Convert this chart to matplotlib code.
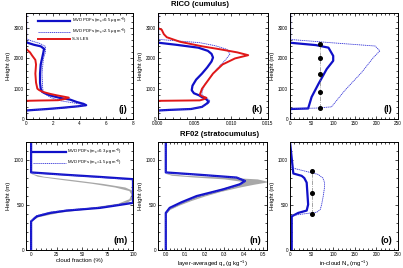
import numpy as np
import matplotlib
matplotlib.use("Agg")
import matplotlib.pyplot as plt
from matplotlib.ticker import MultipleLocator

plt.rcParams["font.family"] = ["Liberation Sans", "DejaVu Sans"]
plt.rcParams["mathtext.fontset"] = "custom"
plt.rcParams["mathtext.rm"] = "Liberation Sans"
plt.rcParams["mathtext.it"] = "Liberation Sans"

BLUE = "#1010c8"
BLUE_THIN = "#3434d8"
RED = "#e01818"
GRAY = "#a8a8a8"

# ---- RICO (cumulus) ----
# (j) cloud fraction-like profile
j_h_thick = [0, 280, 300, 330, 370, 420, 456, 500, 560, 640, 700, 780, 850, 900, 1000, 1200,
             1500, 1800, 2000, 2200, 2320, 2400, 2450, 2520, 2560, 3500]
j_thick = [0, 0, 0.6, 1.6, 2.7, 3.9, 4.5, 4.3, 3.8, 3.3, 2.5, 1.8, 1.4, 1.2, 1.1, 1.05,
           1.05, 1.1, 1.2, 1.3, 1.35, 1.1, 0.6, 0.1, 0, 0]
j_h_thin = [0, 270, 300, 330, 370, 420, 460, 500, 550, 600, 700, 800, 900, 1000, 1500,
            2000, 2200, 2400, 2500, 2580, 2650, 3500]
j_thin = [0, 0, 0.5, 1.8, 3.0, 4.0, 4.3, 4.0, 3.3, 2.6, 1.9, 1.5, 1.3, 1.25, 1.2,
          1.3, 1.45, 1.45, 1.0, 0.4, 0, 0]
j_h_les = [0, 600, 610, 620, 660, 706, 740, 782, 830, 890, 950, 1000, 1200, 1500, 1800,
           1950, 2100, 2200, 2280, 2320, 3500]
j_les = [0, 0, 1.0, 2.4, 2.9, 3.2, 2.8, 2.3, 1.8, 1.3, 1.0, 0.85, 0.75, 0.7, 0.75,
         0.7, 0.45, 0.3, 0.1, 0, 0]

# (k) liquid water profile
k_h_thick = [0, 280, 300, 330, 400, 500, 564, 650, 720, 782, 850, 950, 1100, 1300, 1500,
             1700, 1900, 2030, 2150, 2250, 2355, 2450, 2520, 3500]
k_thick = [0, 0, 0.0015, 0.0045, 0.006, 0.0066, 0.0069, 0.0066, 0.006, 0.0056, 0.0049,
           0.0046, 0.0047, 0.0052, 0.006, 0.0067, 0.0073, 0.0075, 0.0073, 0.0068, 0.0055,
           0.0025, 0, 0]
k_h_thin = [0, 280, 300, 330, 400, 500, 600, 700, 782, 900, 1150, 1400, 1700, 1950, 2140,
            2300, 2420, 2520, 2630, 3500]
k_thin = [0, 0, 0.0015, 0.0045, 0.006, 0.0068, 0.0071, 0.0066, 0.006, 0.006, 0.0064,
          0.0072, 0.0082, 0.0092, 0.0098, 0.0094, 0.0078, 0.0057, 0, 0]
k_h_les = [0, 600, 615, 650, 700, 750, 800, 1000, 1200, 1500, 1800, 2000, 2107, 2200,
           2300, 2400, 2550, 2700, 2800, 2950, 3000, 3500]
k_les = [0, 0, 0.0057, 0.0062, 0.0066, 0.006, 0.0057, 0.006, 0.0066, 0.0075, 0.0088,
         0.0105, 0.0123, 0.0108, 0.0085, 0.006, 0.003, 0.0012, 0.0008, 0.0005, 0, 0]

# (l) droplet number profile
l_h_thick = [0, 300, 330, 347, 726, 1162, 1650, 1922, 2085, 2356, 2440, 2518, 3500]
l_thick = [0, 0, 0, 42, 50, 66, 85, 100, 100, 89, 60, 0, 0]
l_h_thin = [0, 340, 360, 401, 945, 1541, 2030, 2248, 2410, 2518, 2627, 3500]
l_thin = [0, 0, 60, 96, 127, 166, 193, 208, 197, 96, 0, 0]
l_obs_h = [350, 900, 1500, 2000, 2470]
l_obs = [70, 70, 70, 70, 70]

# ---- RF02 (stratocumulus) ----
# (m) cloud fraction (%)
m_h_thick = [0, 318, 374, 412, 438, 468, 494, 524, 787, 812, 835, 862, 1200]
m_thick = [0, 0, 5.6, 18.6, 35, 67.6, 83, 100, 100, 67.6, 35, 0, 0]
m_h_thin = [0, 325, 380, 418, 444, 472, 498, 530, 780, 808, 832, 858, 1200]
m_thin = [0, 0, 5, 18, 35, 66, 82, 100, 100, 66, 34, 0, 0]
m_les_h = [330, 370, 420, 470, 520, 570, 620, 660, 700, 740, 780, 820, 850]
m_les_lo = [0, 3, 20, 55, 85, 96, 98, 96, 82, 60, 32, 6, 0]
m_les_hi = [0, 7, 28, 65, 92, 100, 100, 100, 92, 70, 42, 12, 1]

# (n) layer-averaged qc (g/kg)
n_h_thick = [0, 412, 468, 530, 599, 674, 730, 767, 805, 835, 862, 1200]
n_thick = [0, 0, 0.02, 0.08, 0.158, 0.295, 0.38, 0.407, 0.364, 0.18, 0, 0]
n_h_thin = [0, 405, 462, 525, 595, 670, 727, 764, 802, 832, 858, 1200]
n_thin = [0, 0, 0.022, 0.085, 0.165, 0.30, 0.385, 0.41, 0.37, 0.19, 0, 0]
n_les_h = [400, 450, 500, 550, 600, 650, 700, 730, 760, 790, 810, 830, 850]
n_les_lo = [0, 0.01, 0.05, 0.10, 0.16, 0.23, 0.31, 0.36, 0.40, 0.30, 0.15, 0.03, 0]
n_les_hi = [0, 0.02, 0.07, 0.13, 0.20, 0.28, 0.38, 0.45, 0.53, 0.47, 0.30, 0.10, 0.01]

# (o) in-cloud Nc (mg^-1)
o_h_thick = [0, 374, 412, 438, 505, 749, 800, 824, 850, 1200]
o_thick = [4, 4, 19, 38.6, 42, 38.6, 33, 27, 7.7, 0]
o_h_thin = [0, 380, 400, 420, 450, 500, 600, 700, 750, 800, 840, 870, 900, 920, 1200]
o_thin = [0, 0, 30, 62, 70, 73, 77, 80, 80, 76, 65, 40, 15, 0, 0]
o_obs_h = [401, 637, 880]
o_obs = [50, 50, 50]

fig = plt.figure(figsize=(4.03, 2.68), dpi=100)
W, H = 403.0, 268.0


def add_ax(x0, x1, y0, y1):
    return fig.add_axes([x0 / W, 1 - y1 / H, (x1 - x0) / W, (y1 - y0) / H])


axj = add_ax(26, 133, 13, 119)
axk = add_ax(158, 268, 13, 119)
axl = add_ax(290, 398, 13, 119)
axm = add_ax(26, 133, 142, 250)
axn = add_ax(158, 267, 142, 250)
axo = add_ax(290, 398, 142, 250)

lw_thick, lw_thin = 1.6, 0.6
dots = (0, (1.5, 0.8))

axj.plot(j_thick, j_h_thick, color=BLUE, lw=lw_thick, label=r"MVD PDFs (m$_x$=0.5 $\mu$g m$^{-3}$)")
axj.plot(j_thin, j_h_thin, color=BLUE_THIN, lw=lw_thin, ls=dots, label=r"MVD PDFs (m$_x$=2.5 $\mu$g m$^{-3}$)")
axj.plot(j_les, j_h_les, color=RED, lw=1.4, label="S-S LES")

axk.plot(k_thick, k_h_thick, color=BLUE, lw=lw_thick)
axk.plot(k_thin, k_h_thin, color=BLUE_THIN, lw=lw_thin, ls=dots)
axk.plot(k_les, k_h_les, color=RED, lw=1.4)

axl.plot(l_thick, l_h_thick, color=BLUE, lw=lw_thick)
axl.plot(l_thin, l_h_thin, color=BLUE_THIN, lw=lw_thin, ls=dots)
axl.plot(l_obs, l_obs_h, color="gray", lw=0.5, ls="-.")
axl.plot(l_obs, l_obs_h, "o", color="black", ms=2.6)

axm.fill_betweenx(m_les_h, m_les_lo, m_les_hi, color=GRAY, lw=0)
axm.plot(m_thick, m_h_thick, color=BLUE, lw=lw_thick, label=r"MVD PDFs (m$_x$=0.3 $\mu$g m$^{-3}$)")
axm.plot(m_thin, m_h_thin, color=BLUE_THIN, lw=lw_thin, ls=dots, label=r"MVD PDFs (m$_x$=1.5 $\mu$g m$^{-3}$)")

axn.fill_betweenx(n_les_h, n_les_lo, n_les_hi, color=GRAY, lw=0)
axn.plot(n_thick, n_h_thick, color=BLUE, lw=lw_thick)
axn.plot(n_thin, n_h_thin, color=BLUE_THIN, lw=lw_thin, ls=dots)

axo.plot(o_thick, o_h_thick, color=BLUE, lw=lw_thick)
axo.plot(o_thin, o_h_thin, color=BLUE_THIN, lw=lw_thin, ls=dots)
axo.plot(o_obs, o_obs_h, color="gray", lw=0.5, ls="-.")
axo.plot(o_obs, o_obs_h, "o", color="black", ms=2.6)

setup = [
    (axj, (0, 8), 2, 0.5, (0, 3500), 1000, 200, "(j)", None),
    (axk, (0, 0.015), 0.005, 0.001, (0, 3500), 1000, 200, "(k)", None),
    (axl, (0, 250), 50, 10, (0, 3500), 1000, 200, "(l)", None),
    (axm, (-5, 100), 25, 5, (0, 1200), 500, 100, "(m)", "cloud fraction (%)"),
    (axn, (-0.04, 0.52), 0.1, 0.02, (0, 1200), 500, 100, "(n)", r"layer-averaged q$_c$ (g kg$^{-1}$)"),
    (axo, (0, 250), 50, 10, (0, 1200), 500, 100, "(o)", r"in-cloud N$_c$ (mg$^{-1}$)"),
]
for ax, xl, xmaj, xmin, yl, ymaj, ymin, tag, xlab in setup:
    ax.set_xlim(*xl)
    ax.set_ylim(*yl)
    ax.xaxis.set_major_locator(MultipleLocator(xmaj))
    ax.xaxis.set_minor_locator(MultipleLocator(xmin))
    ax.yaxis.set_major_locator(MultipleLocator(ymaj))
    ax.yaxis.set_minor_locator(MultipleLocator(ymin))
    ax.tick_params(which="both", direction="in", top=True, right=True, labelsize=3.3, pad=1.5, width=0.5)
    ax.tick_params(which="major", length=2.2)
    ax.tick_params(which="minor", length=1.1)
    for s in ax.spines.values():
        s.set_linewidth(0.7)
    ax.set_ylabel("Height (m)", fontsize=4.3, labelpad=2)
    if xlab:
        ax.set_xlabel(xlab, fontsize=4.3, labelpad=1)
    ax.text(0.95, 0.05, tag, transform=ax.transAxes, ha="right", va="bottom",
            fontsize=6.5, fontweight="bold")

axk.xaxis.set_major_formatter(plt.FormatStrFormatter("%.3f"))
axn.xaxis.set_major_formatter(plt.FormatStrFormatter("%.1f"))

leg_kw = dict(loc="upper left", fontsize=3.1, frameon=False, handlelength=7.6,
              handletextpad=0.3, labelspacing=0.1, borderaxespad=0.3)
axj.legend(bbox_to_anchor=(0.08, 1.0), **leg_kw)
axm.legend(bbox_to_anchor=(0.04, 0.98), **leg_kw)

fig.text(200 / W, 1 - 5 / H, "RICO (cumulus)", ha="center", va="center", fontsize=5.5, fontweight="bold")
fig.text(220 / W, 1 - 134 / H, "RF02 (stratocumulus)", ha="center", va="center", fontsize=5.5, fontweight="bold")

fig.savefig("out.png", dpi=100)
